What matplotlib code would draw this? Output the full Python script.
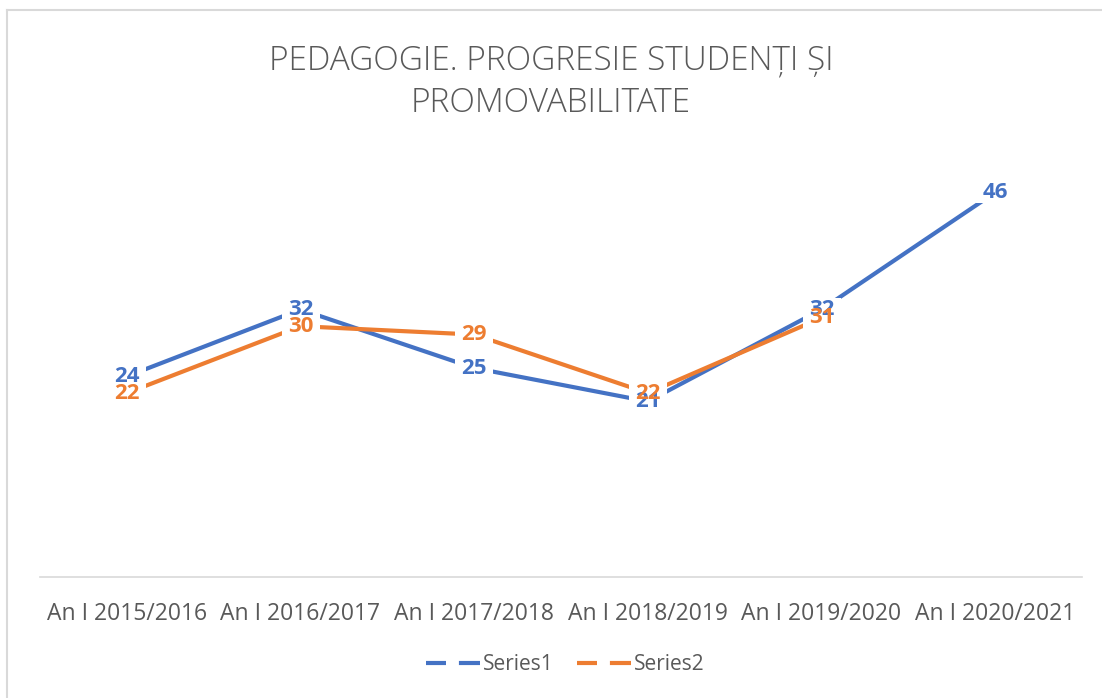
import matplotlib.pyplot as plt
from matplotlib.lines import Line2D
from matplotlib.patches import Rectangle
from matplotlib.transforms import ScaledTranslation

# date
categorii = ["An I 2015/2016", "An I 2016/2017", "An I 2017/2018",
             "An I 2018/2019", "An I 2019/2020", "An I 2020/2021"]
serie1 = [24, 32, 25, 21, 32, 46]
serie2 = [22, 30, 29, 22, 31]

albastru = "#4472C4"
portocaliu = "#ED7D31"
gri = "#595959"

plt.rcParams['font.family'] = ['Open Sans', 'DejaVu Sans']

fig = plt.figure(figsize=(11.02, 6.98), dpi=100)
ax = fig.add_axes([40 / 1102, 1 - 577 / 698, 1042 / 1102, 418 / 698])

x1 = list(range(len(serie1)))
x2 = list(range(len(serie2)))
ax.plot(x1, serie1, color=albastru, lw=3, solid_capstyle='butt', zorder=2)
ax.plot(x2, serie2, color=portocaliu, lw=3, solid_capstyle='butt', zorder=2)

# etichete de date, centrate pe puncte
# dreptunghiuri albe ascund liniile sub etichete (textele se pot suprapune ca in Excel)
for xs, ys, c in ((x1, serie1, albastru), (x2, serie2, portocaliu)):
    for x, y in zip(xs, ys):
        tr = fig.dpi_scale_trans + ScaledTranslation(x, y, ax.transData)
        ax.add_patch(Rectangle((-0.19, -0.11), 0.38, 0.22, transform=tr,
                               facecolor='white', edgecolor='none', zorder=2.5))
for xs, ys, c in ((x1, serie1, albastru), (x2, serie2, portocaliu)):
    for x, y in zip(xs, ys):
        ax.text(x, y, str(y), color=c, fontsize=16, fontweight='bold',
                ha='center', va='center', zorder=3)

ax.set_xlim(-0.5, 5.5)
ax.set_ylim(0, 50)
ax.set_yticks([])
ax.set_xticks(range(len(categorii)))
ax.set_xticklabels(categorii, fontsize=16.5, color=gri)
ax.tick_params(axis='x', length=0, pad=18)
for s in ('top', 'right', 'left'):
    ax.spines[s].set_visible(False)
ax.spines['bottom'].set_color('#D9D9D9')
ax.spines['bottom'].set_linewidth(1.2)

fig.text(0.5, 1 - 82 / 698, "PEDAGOGIE. PROGRESIE STUDENȚI ȘI\nPROMOVABILITATE",
         ha='center', va='center', fontsize=24, color=gri, linespacing=1.37,
         fontweight='light')

# legenda
model = (0, (4.8, 3.1, 5.5, 10))
h1 = Line2D([], [], color=albastru, lw=3, linestyle=model)
h2 = Line2D([], [], color=portocaliu, lw=3, linestyle=model)
fig.legend([h1, h2], ["Series1", "Series2"], loc='center',
           bbox_to_anchor=(565 / 1102, 1 - 665 / 698), ncol=2, frameon=False,
           fontsize=15, labelcolor=gri, handlelength=2.6, columnspacing=1.1,
           handletextpad=0.15)

# chenar
fig.add_artist(Line2D([7 / 1102, 1], [1 - 10 / 698] * 2, color='#D9D9D9', lw=1.5))
fig.add_artist(Line2D([7 / 1102] * 2, [0, 1 - 10 / 698], color='#D9D9D9', lw=1.5))

fig.savefig("out.png", dpi=100, facecolor='white')
